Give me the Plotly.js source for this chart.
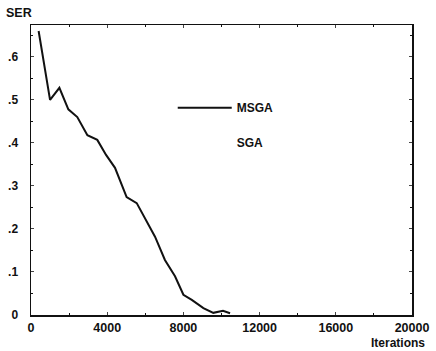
<!DOCTYPE html>
<html>
<head>
<meta charset="utf-8">
<script src="https://cdn.plot.ly/plotly-3.0.1.min.js"></script>
<style>html,body{margin:0;padding:0;background:#fff;}#chart{width:436px;height:351px;}</style>
</head>
<body>
<div id="chart"></div>
<script>
const iterations = [400, 1000, 1490, 1960, 2430, 2960, 3480, 3940, 4410, 4620, 5020, 5550, 6510, 7030, 7560, 8000, 8440, 9050, 9570, 10080, 10450];
const msgaSER = [0.66, 0.50, 0.528, 0.478, 0.46, 0.418, 0.407, 0.372, 0.342, 0.318, 0.274, 0.26, 0.182, 0.128, 0.09, 0.047, 0.035, 0.016, 0.005, 0.01, 0.004];
const sgaIterations = [null];
const sgaSER = [null];
const yTickVals = [0, 0.1, 0.2, 0.3, 0.4, 0.5, 0.6];
const yTickText = ['0', '.1', '.2', '.3', '.4', '.5', '.6'];
const xTickVals = [0, 4000, 8000, 12000, 16000, 20000];
const xTickText = ['0', '4000', '8000', '12000', '16000', '20000'];

const fam = 'Liberation Sans, Arial, sans-serif';
const boldFont = (s) => ({family: fam, size: s, color: '#111', weight: 'bold'});
const data = [
  {x: iterations, y: msgaSER, name: 'MSGA', mode: 'lines', line: {color: '#111', width: 2}, legendgroup: 'a'},
  {x: sgaIterations, y: sgaSER, name: 'SGA', mode: 'lines', line: {color: 'rgba(0,0,0,0)', width: 1}, legendgroup: 'b'}
];
const layout = {
  width: 436, height: 351,
  margin: {l: 31, r: 24, t: 25, b: 36},
  paper_bgcolor: '#fff', plot_bgcolor: '#fff',
  font: {family: fam, size: 12, color: '#111'},
  showlegend: true,
  legend: {x: 0.372, y: 0.765, xanchor: 'left', yanchor: 'top', bgcolor: 'rgba(0,0,0,0)',
    font: boldFont(12), tracegroupgap: 16, itemwidth: 54, traceorder: 'grouped'},
  xaxis: {range: [0, 20000], tickvals: xTickVals, ticktext: xTickText, ticks: 'inside', ticklen: 3,
    showline: true, mirror: 'ticks', linecolor: '#111', linewidth: 1.5, showgrid: false, zeroline: false,
    tickfont: boldFont(12.5),
    minor: {dtick: 2000, ticks: 'inside', ticklen: 2, tickcolor: '#111', showgrid: false}},
  yaxis: {range: [0, 0.674], tickvals: yTickVals, ticktext: yTickText, ticks: 'inside', ticklen: 3,
    showline: true, mirror: 'ticks', linecolor: '#111', linewidth: 1.5, showgrid: false, zeroline: false,
    tickfont: boldFont(12), ticklabelstandoff: 9,
    minor: {dtick: 0.05, ticks: 'inside', ticklen: 2, tickcolor: '#111', showgrid: false}},
  annotations: [
    {text: 'SER', xref: 'paper', yref: 'paper', x: -0.07, y: 1.0, xanchor: 'left', yanchor: 'bottom', yshift: 3, showarrow: false,
      font: boldFont(12.5)},
    {text: 'Iterations', xref: 'paper', yref: 'paper', x: 1.04, y: 0, xanchor: 'right', yanchor: 'top', yshift: -19, showarrow: false,
      font: boldFont(12)}
  ]
};
Plotly.newPlot('chart', data, layout, {displayModeBar: false, staticPlot: true});
</script>
</body>
</html>
